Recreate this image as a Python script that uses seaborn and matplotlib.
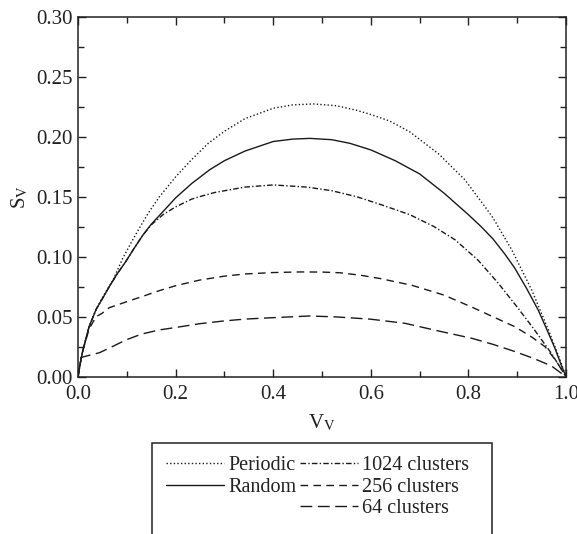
import matplotlib
matplotlib.use("Agg")
import matplotlib.pyplot as plt
import seaborn as sns
import pandas as pd
from matplotlib.lines import Line2D
from matplotlib.patches import Rectangle
from matplotlib.ticker import MultipleLocator, FormatStrFormatter

# ---- data ----
periodic_v = [0.0, 0.005, 0.01, 0.023, 0.037, 0.05, 0.071, 0.0915, 0.11, 0.126, 0.145, 0.167, 0.2, 0.233,
              0.267, 0.3, 0.342, 0.4, 0.44, 0.482, 0.53, 0.571, 0.6, 0.639, 0.68, 0.738, 0.793, 0.837,
              0.851, 0.889, 0.93, 0.964, 0.985, 1.0]
periodic_s = [0.0, 0.012, 0.022, 0.042, 0.056, 0.066, 0.080, 0.0985, 0.1125, 0.124, 0.137, 0.150, 0.1665, 0.181,
              0.1945, 0.2045, 0.215, 0.2237, 0.2265, 0.2273, 0.2258, 0.222, 0.2185, 0.213, 0.204, 0.186, 0.164, 0.140,
              0.132, 0.1056, 0.072, 0.039, 0.017, 0.0]

random_v = [0.0, 0.005, 0.01, 0.023, 0.037, 0.05, 0.064, 0.08, 0.098, 0.115, 0.133, 0.15, 0.174, 0.2, 0.233,
            0.27, 0.3, 0.342, 0.4, 0.44, 0.475, 0.52, 0.557, 0.6, 0.65, 0.7, 0.75, 0.8, 0.825, 0.85, 0.875,
            0.895, 0.92, 0.943, 0.96, 0.977, 0.99, 1.0]
random_s = [0.0, 0.012, 0.022, 0.042, 0.056, 0.065, 0.075, 0.0855, 0.096, 0.107, 0.118, 0.127, 0.1375, 0.149, 0.161,
            0.1725, 0.180, 0.188, 0.196, 0.198, 0.1986, 0.1975, 0.1945, 0.189, 0.180, 0.169, 0.153, 0.135, 0.1255, 0.1150,
            0.1020, 0.0905, 0.073, 0.0556, 0.040, 0.024, 0.010, 0.0]

c1024_v = [0.0, 0.005, 0.01, 0.023, 0.037, 0.05, 0.064, 0.08, 0.098, 0.115, 0.133, 0.15, 0.174, 0.2, 0.233,
           0.249, 0.28, 0.342, 0.40, 0.469, 0.52, 0.571, 0.62, 0.68, 0.73, 0.773, 0.82, 0.861, 0.9, 0.93, 0.97, 1.0]
c1024_s = [0.0, 0.012, 0.022, 0.042, 0.056, 0.065, 0.075, 0.0855, 0.096, 0.107, 0.118, 0.1265, 0.135, 0.1415, 0.148,
           0.150, 0.1535, 0.158, 0.1598, 0.158, 0.155, 0.150, 0.1435, 0.135, 0.125, 0.114, 0.097, 0.078, 0.058, 0.042, 0.0195, 0.0]

c256_v = [0.0, 0.005, 0.01, 0.023, 0.037, 0.05, 0.064, 0.1, 0.133, 0.165, 0.2, 0.249, 0.3, 0.342, 0.4, 0.455,
          0.5, 0.537, 0.58, 0.619, 0.684, 0.75, 0.807, 0.85, 0.895, 0.93, 0.957, 0.98, 1.0]
c256_s = [0.0, 0.012, 0.022, 0.040, 0.050, 0.053, 0.0575, 0.0625, 0.067, 0.0715, 0.0758, 0.0805, 0.0838, 0.0856, 0.0868, 0.0873,
          0.0872, 0.0866, 0.0845, 0.0818, 0.0762, 0.068, 0.058, 0.050, 0.0417, 0.033, 0.025, 0.013, 0.0]

c64_v = [0.0, 0.006, 0.02, 0.044, 0.07, 0.098, 0.13, 0.167, 0.2, 0.25, 0.3, 0.342, 0.4, 0.475, 0.53, 0.598,
         0.67, 0.74, 0.807, 0.85, 0.895, 0.935, 0.97, 1.0]
c64_s = [0.0, 0.016, 0.0175, 0.020, 0.025, 0.0306, 0.0355, 0.039, 0.041, 0.0442, 0.0465, 0.048, 0.0492, 0.0506, 0.0498, 0.048,
         0.0445, 0.038, 0.032, 0.027, 0.021, 0.015, 0.009, 0.0]

labels = ["Periodic", "Random", "1024 clusters", "256 clusters", "64 clusters"]
x_ticks = [0.0, 0.2, 0.4, 0.6, 0.8, 1.0]
y_ticks = [0.00, 0.05, 0.10, 0.15, 0.20, 0.25, 0.30]

sns.set_style("ticks")
plt.rcParams["font.family"] = ["Liberation Serif", "DejaVu Serif"]
plt.rcParams["mathtext.fontset"] = "stix"
ink = "#222222"
plt.rcParams["text.color"] = ink
plt.rcParams["axes.labelcolor"] = ink
plt.rcParams["xtick.color"] = ink
plt.rcParams["ytick.color"] = ink

W, H = 577, 534
fig = plt.figure(figsize=(W / 100, H / 100), dpi=100)
ax = fig.add_axes([78 / W, 1 - 376.7 / H, (566 - 78) / W, (376.7 - 16.7) / H])

styles = [(0, (1.0, 1.6)), "-", (0, (4.0, 1.6, 1.0, 1.6)), (0, (5.5, 3.8)), (0, (8.5, 4.0))]
series = [(periodic_v, periodic_s), (random_v, random_s), (c1024_v, c1024_s),
          (c256_v, c256_s), (c64_v, c64_s)]
lw = 1.0
for (vx, sy), lab, ls in zip(series, labels, styles):
    df = pd.DataFrame({"V": vx, "S": sy})
    sns.lineplot(data=df, x="V", y="S", ax=ax, color="#1a1a1a", linewidth=lw,
                 linestyle=ls, sort=False, estimator=None, label=lab, legend=False)

ax.set_xlim(0, 1.0)
ax.set_ylim(0, 0.30)
ax.set_xticks(x_ticks)
ax.set_yticks(y_ticks)
ax.xaxis.set_minor_locator(MultipleLocator(0.1))
ax.yaxis.set_minor_locator(MultipleLocator(0.025))
ax.xaxis.set_major_formatter(FormatStrFormatter("%.1f"))
ax.yaxis.set_major_formatter(FormatStrFormatter("%.2f"))
ax.tick_params(which="both", direction="in", top=True, right=True, labelsize=15, width=1.0)
ax.tick_params(which="major", length=6)
ax.tick_params(axis="x", which="major", pad=6)
ax.tick_params(axis="y", which="major", pad=4)
ax.tick_params(which="minor", length=4)
for sp in ax.spines.values():
    sp.set_linewidth(1.1)
    sp.set_color(ink)

ax.set_xlabel(r"V$_{\mathrm{V}}$", fontsize=15, labelpad=6)
ax.set_ylabel(r"S$_{\mathrm{V}}$", fontsize=15, labelpad=4)

# legend: 2 columns (Periodic, Random | 1024, 256, 64 clusters)
h = [Line2D([], [], color="#1a1a1a", lw=lw, ls=ls) for ls in styles]
blank = Line2D([], [], color="none", lw=0)
handles = [h[0], h[1], blank, h[2], h[3], h[4]]
labs = [labels[0], labels[1], "", labels[2], labels[3], labels[4]]
fig.legend(handles, labs, ncol=2, frameon=False, loc="upper left",
           bbox_to_anchor=(156 / W, 1 - 446 / H), fontsize=14.5, handlelength=2.9,
           handletextpad=0.2, columnspacing=0.15, labelspacing=0.12, borderpad=0.0)
fig.patches.append(Rectangle((152 / W, 0 - 20 / H), (492 - 152) / W, (534 - 443 + 20) / H,
                             transform=fig.transFigure, fill=False, edgecolor=ink, linewidth=1.1))

fig.savefig("out.png", dpi=100)
